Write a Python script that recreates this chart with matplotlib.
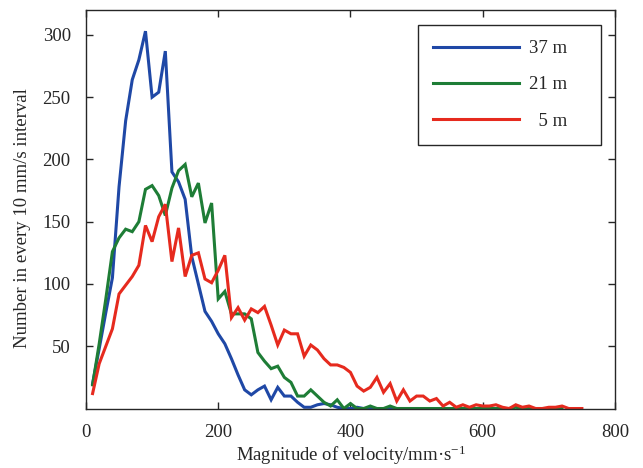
import numpy as np
import matplotlib
matplotlib.use("Agg")
import matplotlib.pyplot as plt

plt.rcParams['font.family'] = ['Liberation Serif', 'DejaVu Serif']
plt.rcParams['mathtext.fontset'] = 'custom'
plt.rcParams['mathtext.rm'] = 'Liberation Serif'
plt.rcParams['mathtext.it'] = 'Liberation Serif:italic'

# velocity bins (upper edge of each 10 mm/s interval)
velocity = np.arange(10, 760, 10)

count_37m = [20, 48, 77, 105, 178, 231, 264, 280, 303, 250,
             254, 287, 190, 182, 168, 122, 100, 78, 70, 60,
             52, 40, 27, 15, 11, 15, 18, 7, 17, 10,
             10, 5, 1, 1, 3, 4, 3, 1, 0, 0,
             1, 0, 0, 0, 0, 0, 0, 0, 0, 0]

count_21m = [19, 52, 88, 126, 137, 144, 142, 150, 176, 179,
             171, 155, 177, 191, 196, 170, 181, 149, 165, 88,
             94, 76, 76, 76, 72, 45, 38, 32, 34, 25,
             21, 10, 10, 15, 10, 5, 2, 7, 0, 4,
             0, 0, 2, 0, 0, 2, 0, 0, 0, 0,
             0, 0, 0, 0, 0, 0, 0, 0, 0, 0,
             0, 0, 0, 0, 1, 0, 0, 0, 0, 0,
             0, 0]

count_5m = [12, 36, 50, 64, 92, 99, 106, 115, 147, 134,
            154, 164, 118, 145, 106, 123, 125, 104, 101, 111,
            123, 73, 81, 71, 80, 77, 82, 67, 51, 63,
            60, 60, 42, 51, 47, 40, 35, 35, 33, 29,
            18, 14, 17, 25, 13, 20, 6, 15, 6, 10,
            10, 6, 8, 2, 5, 1, 3, 1, 3, 2,
            2, 3, 1, 0, 3, 1, 2, 0, 0, 1,
            1, 2, 0, 0, 0]

series = [
    ("37 m    ", count_37m, "#1f48a6"),
    ("21 m    ", count_21m, "#1e7d36"),
    ("  5 m    ", count_5m, "#e62a1e"),
]

fig = plt.figure(figsize=(6.43, 4.68), dpi=100)
ax = fig.add_axes([0.1337, 0.1271, 0.8227, 0.8515])

for label, counts, color in series:
    ax.plot(velocity[:len(counts)], counts, color=color, lw=2.2,
            label=label, solid_joinstyle='miter')

ax.set_xlim(0, 800)
ax.set_ylim(0, 320)
ax.set_xticks(np.arange(0, 801, 200))
ax.set_yticks(np.arange(50, 301, 50))

ax.tick_params(direction='in', length=5, width=1.0, colors='#262626',
               labelsize=13.5, top=True, right=True)
ax.tick_params(axis='x', pad=11)
ax.tick_params(axis='y', pad=11)
for s in ax.spines.values():
    s.set_color('#262626')
    s.set_linewidth(1.0)

ax.set_xlabel("Magnitude of velocity/mm\u00b7s$^{-1}$", fontsize=13.5,
              color='#262626', labelpad=2)
ax.set_ylabel("Number in every 10 mm/s interval", fontsize=13.5,
              color='#262626')
ax.yaxis.set_label_coords(-0.104, 0.477)

leg = ax.legend(loc='upper right', bbox_to_anchor=(601 / 643, 1 - 25 / 468),
                bbox_transform=fig.transFigure, borderaxespad=0,
                fontsize=13.5, handlelength=4.6, handletextpad=0.5,
                labelspacing=1.02, borderpad=0.8, fancybox=False,
                edgecolor='#262626', framealpha=1)
leg.get_frame().set_linewidth(1.0)
for t in leg.get_texts():
    t.set_color('#262626')

fig.savefig("out.png", dpi=100)
